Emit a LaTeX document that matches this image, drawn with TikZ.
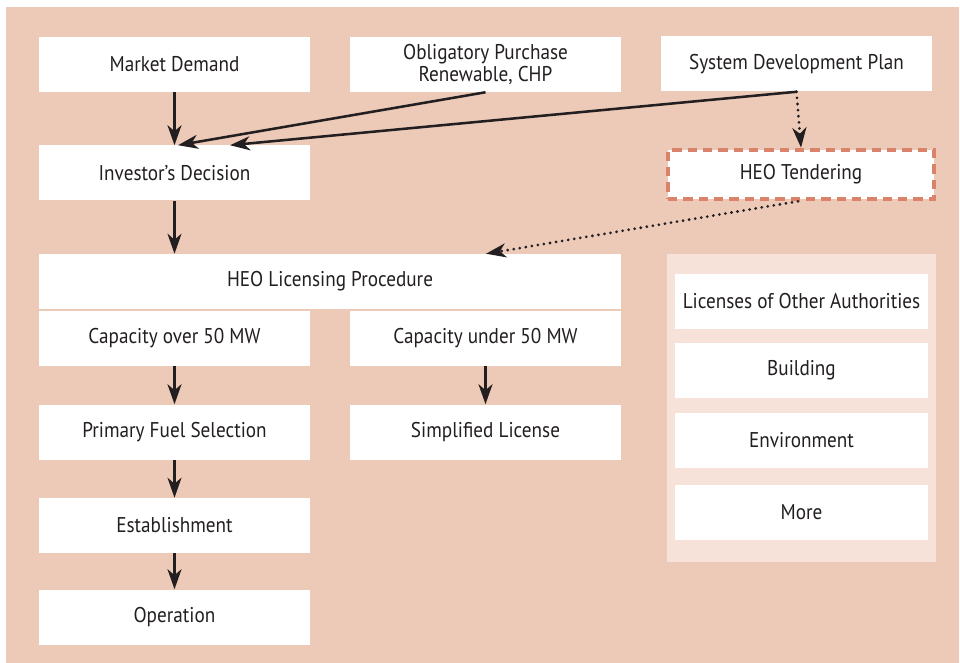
\documentclass[tikz,border=0pt]{standalone}
\usepackage{fontspec}
\setmainfont[FakeStretch=0.9]{PT Sans}
\usetikzlibrary{arrows.meta}
\definecolor{bgsalmon}{HTML}{EDCAB8}
\definecolor{panelpink}{HTML}{F6E2D8}
\definecolor{dashred}{HTML}{D9846A}
\definecolor{inkgray}{HTML}{231F20}
\tikzset{
  box/.style={fill=white, draw=none, minimum width=271*0.75pt, minimum height=55*0.75pt,
    inner sep=0pt, align=center, text=inkgray, font=\fontsize{16pt}{15pt}\selectfont},
  wide/.style={box, minimum width=582*0.75pt},
  side/.style={box, minimum width=253*0.75pt},
  tenderbox/.style={box, minimum width=266*0.75pt, minimum height=49*0.75pt,
    draw=dashred, line width=3.5pt, dash pattern=on 7pt off 4.5pt},
  flow/.style={draw=inkgray, line width=1.9pt,
    -{Stealth[length=15pt, width=10.5pt, inset=4.5pt]}},
  dots/.style={flow, line width=2.3pt, line cap=round, dash pattern=on 0pt off 4.6pt}
}
\begin{document}
\begin{tikzpicture}[x=0.75pt, y=-0.75pt]
\useasboundingbox (0,0) rectangle (960,663);
\fill[bgsalmon] (6,7) rectangle (959,663);
\fill[panelpink] (667,254) rectangle (936,562);

\node[box] (md)  at (174.5,64.5) {Market Demand};
\node[box] (ob)  at (485.5,64.5) {Obligatory Purchase\\[1pt]Renewable, CHP};
\node[box] (sdp) at (796.5,64) {System Development Plan};
\node[box] (inv) at (174.5,173) {Investor’s Decision};
\node[tenderbox] (ten) at (801,174.5) {HEO Tendering};
\node[wide] (lic) at (330,281.5) {HEO Licensing Procedure};
\node[box] (cov) at (174.5,338) {Capacity over 50 MW};
\node[box] (cun) at (485.5,338) {Capacity under 50 MW};
\node[box] (pfs) at (174.5,432) {Primary Fuel Selection};
\node[box] (sl)  at (485.5,432) {Simplified License};
\node[box] (est) at (174.5,525.5) {Establishment};
\node[box] (opn) at (174.5,617) {Operation};

\node[side] (loa) at (801.5,301.5) {Licenses of Other Authorities};
\node[side] (bld) at (801.5,370.5) {Building};
\node[side] (env) at (801.5,440.5) {Environment};
\node[side] (mor) at (801.5,512.5) {More};

\draw[flow] (md) -- (inv);
\draw[flow] (ob.south) -- ([xshift=3.5*0.75pt]inv.north);
\draw[flow] (sdp.south) -- ([xshift=55.5*0.75pt]inv.north);
\draw[dots] (sdp.south) -- (ten.north);
\draw[dots] ([xshift=-3*0.75pt]ten.south) -- ([xshift=156*0.75pt]lic.north);
\draw[flow] (inv) -- (lic.north -| inv);
\draw[flow] (cov) -- (pfs);
\draw[flow] (cun) -- (sl);
\draw[flow] (pfs) -- (est);
\draw[flow] (est) -- (opn);
\end{tikzpicture}
\end{document}
